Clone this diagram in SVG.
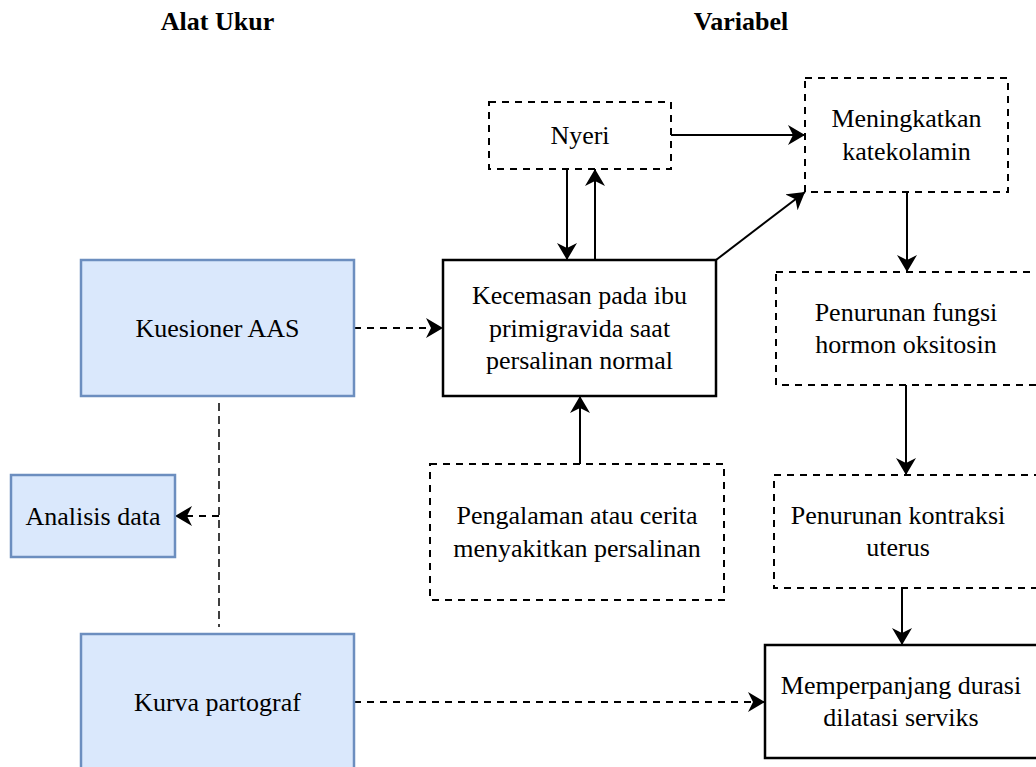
<svg xmlns="http://www.w3.org/2000/svg" width="1036" height="767" viewBox="0 0 1036 767">
  <style>
    .t { font-family: "Liberation Serif", "Times New Roman", serif; font-size: 26px; fill: #000; text-anchor: middle; }
    .h { font-family: "Liberation Serif", "Times New Roman", serif; font-size: 26px; font-weight: bold; fill: #000; text-anchor: middle; }
    .blue { fill: #dae8fc; stroke: #6c8ebf; stroke-width: 2.5; }
    .solid { fill: #fff; stroke: #000; stroke-width: 2.5; }
    .dash { fill: #fff; stroke: #000; stroke-width: 2; stroke-dasharray: 7 6; }
    .c { fill: none; stroke: #000; stroke-width: 2; }
    .cd { fill: none; stroke: #000; stroke-width: 2; stroke-dasharray: 7 6; }
    .cv { fill: none; stroke: #000; stroke-width: 1.5; stroke-dasharray: 8 5; }
  </style>
  <defs>
    <marker id="arr" markerUnits="userSpaceOnUse" markerWidth="18" markerHeight="20" refX="17" refY="10" orient="auto">
      <path d="M0,0 L17,10 L0,20 L5,10 Z" fill="#000"/>
    </marker>
  </defs>
  <rect width="1036" height="767" fill="#fff"/>

  <g id="titles">
    <text class="h" x="217.5" y="30">Alat Ukur</text>
    <text class="h" x="741" y="30">Variabel</text>
  </g>

  <g id="connectors">
    <line class="cd" x1="354" y1="328" x2="443" y2="328" marker-end="url(#arr)"/>
    <line class="cv" x1="219" y1="403" x2="219" y2="627"/>
    <line class="cd" x1="219" y1="516" x2="175" y2="516" marker-end="url(#arr)"/>
    <line class="cd" x1="354" y1="702" x2="765" y2="702" marker-end="url(#arr)"/>
    <line class="c" x1="567" y1="169" x2="567" y2="260" marker-end="url(#arr)"/>
    <line class="c" x1="595" y1="260" x2="595" y2="169" marker-end="url(#arr)"/>
    <line class="c" x1="671" y1="135" x2="805" y2="135" marker-end="url(#arr)"/>
    <line class="c" x1="716" y1="260" x2="805" y2="192" marker-end="url(#arr)"/>
    <line class="c" x1="580" y1="464" x2="580" y2="396" marker-end="url(#arr)"/>
    <line class="c" x1="907" y1="192" x2="907" y2="272" marker-end="url(#arr)"/>
    <line class="c" x1="906" y1="385" x2="906" y2="475" marker-end="url(#arr)"/>
    <line class="c" x1="902" y1="588" x2="902" y2="645" marker-end="url(#arr)"/>
  </g>

  <g id="kuesioner">
    <rect class="blue" x="81" y="260" width="273" height="136"/>
    <text class="t" x="217.5" y="337">Kuesioner AAS</text>
  </g>
  <g id="analisis">
    <rect class="blue" x="11" y="475" width="164" height="82"/>
    <text class="t" x="93" y="525">Analisis data</text>
  </g>
  <g id="kurva">
    <rect class="blue" x="81" y="634" width="273" height="140"/>
    <text class="t" x="217.5" y="711">Kurva partograf</text>
  </g>
  <g id="nyeri">
    <rect class="dash" x="489" y="102" width="182" height="67"/>
    <text class="t" x="580" y="144">Nyeri</text>
  </g>
  <g id="kecemasan">
    <rect class="solid" x="443" y="260" width="273" height="136"/>
    <text class="t" x="579.5" y="304">Kecemasan pada ibu</text>
    <text class="t" x="579.5" y="336.5">primigravida saat</text>
    <text class="t" x="579.5" y="369">persalinan normal</text>
  </g>
  <g id="pengalaman">
    <rect class="dash" x="430" y="464" width="294" height="136"/>
    <text class="t" x="577" y="524">Pengalaman atau cerita</text>
    <text class="t" x="577" y="557">menyakitkan persalinan</text>
  </g>
  <g id="meningkatkan">
    <rect class="dash" x="805" y="78" width="203" height="114"/>
    <text class="t" x="906.5" y="127">Meningkatkan</text>
    <text class="t" x="906.5" y="160">katekolamin</text>
  </g>
  <g id="fungsi">
    <rect class="dash" x="776" y="272" width="262" height="113"/>
    <text class="t" x="906" y="321">Penurunan fungsi</text>
    <text class="t" x="906" y="353">hormon oksitosin</text>
  </g>
  <g id="kontraksi">
    <rect class="dash" x="774" y="475" width="264" height="113"/>
    <text class="t" x="898" y="524">Penurunan kontraksi</text>
    <text class="t" x="898" y="556">uterus</text>
  </g>
  <g id="memperpanjang">
    <rect class="solid" x="765" y="645" width="275" height="113"/>
    <text class="t" x="901" y="694">Memperpanjang durasi</text>
    <text class="t" x="901" y="726">dilatasi serviks</text>
  </g>
</svg>
